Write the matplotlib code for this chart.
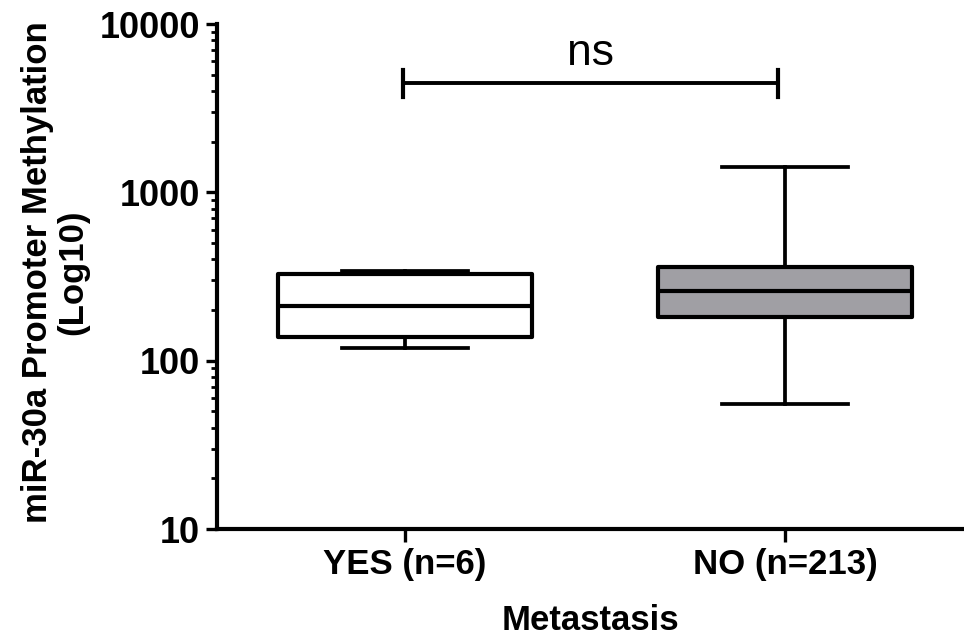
import matplotlib.pyplot as plt
from matplotlib.ticker import LogLocator, NullFormatter, FixedLocator

plt.rcParams['font.family'] = ['Liberation Sans', 'DejaVu Sans']

groups = ['YES (n=6)', 'NO (n=213)']
whisker_low = [119, 55]
q1 = [138, 182]
median = [211, 260]
q3 = [327, 360]
whisker_high = [341, 1416]
box_colors = ['white', '#a09fa4']

sig_label = 'ns'
sig_level = 4470

stats = []
for i, name in enumerate(groups):
    stats.append({'label': name, 'whislo': whisker_low[i], 'q1': q1[i], 'med': median[i],
                  'q3': q3[i], 'whishi': whisker_high[i], 'fliers': []})

fig = plt.figure(figsize=(9.64, 6.38), dpi=100)
ax = fig.add_axes([0.2251, 0.1708, 0.7749, 0.7915])

positions = [1, 2]
bp = ax.bxp(stats, positions=positions, widths=0.67, capwidths=0.33, patch_artist=True,
            showfliers=False,
            boxprops=dict(linewidth=3.0, edgecolor='black'),
            medianprops=dict(linewidth=3.0, color='black'),
            whiskerprops=dict(linewidth=2.7, color='black'),
            capprops=dict(linewidth=2.7, color='black'))
for patch, c in zip(bp['boxes'], box_colors):
    patch.set_facecolor(c)
    patch.set_joinstyle('round')

ax.set_yscale('log')
ax.set_ylim(10, 10000)
ax.set_xlim(0.505, 2.471)

ax.yaxis.set_major_locator(FixedLocator([10, 100, 1000, 10000]))
ax.set_yticklabels(['10', '100', '1000', '10000'])
ax.yaxis.set_minor_locator(LogLocator(base=10, subs=range(2, 10)))
ax.yaxis.set_minor_formatter(NullFormatter())

ax.set_xticks(positions)
ax.set_xticklabels(groups)

for side in ['top', 'right']:
    ax.spines[side].set_visible(False)
for side in ['left', 'bottom']:
    ax.spines[side].set_linewidth(3.0)

ax.tick_params(axis='y', which='major', direction='out', length=8, width=2.4, pad=4,
               labelsize=26)
ax.tick_params(axis='y', which='minor', direction='out', length=4.5, width=2.0)
ax.tick_params(axis='x', which='major', direction='out', length=9, width=2.4, pad=5,
               labelsize=25)
for lab in ax.get_xticklabels() + ax.get_yticklabels():
    lab.set_fontweight('bold')

# significance bracket between the two groups
bx = [0.995, 1.982]
ax.plot(bx, [sig_level, sig_level], color='black', linewidth=2.8, clip_on=False)
for x in bx:
    ax.plot([x, x], [sig_level * 0.83, sig_level * 1.19], color='black', linewidth=3.0,
            clip_on=False)
ax.text(sum(bx) / 2, sig_level * 1.13, sig_label, ha='center', va='bottom', fontsize=32)

ax.set_xlabel('Metastasis', fontsize=25, fontweight='bold', labelpad=16)
fig.text(0.057, 0.573, 'miR-30a Promoter Methylation\n(Log10)', rotation=90,
         ha='center', va='center', multialignment='center', fontsize=25,
         fontweight='bold', linespacing=1.1)

fig.savefig('out.png', dpi=100)
